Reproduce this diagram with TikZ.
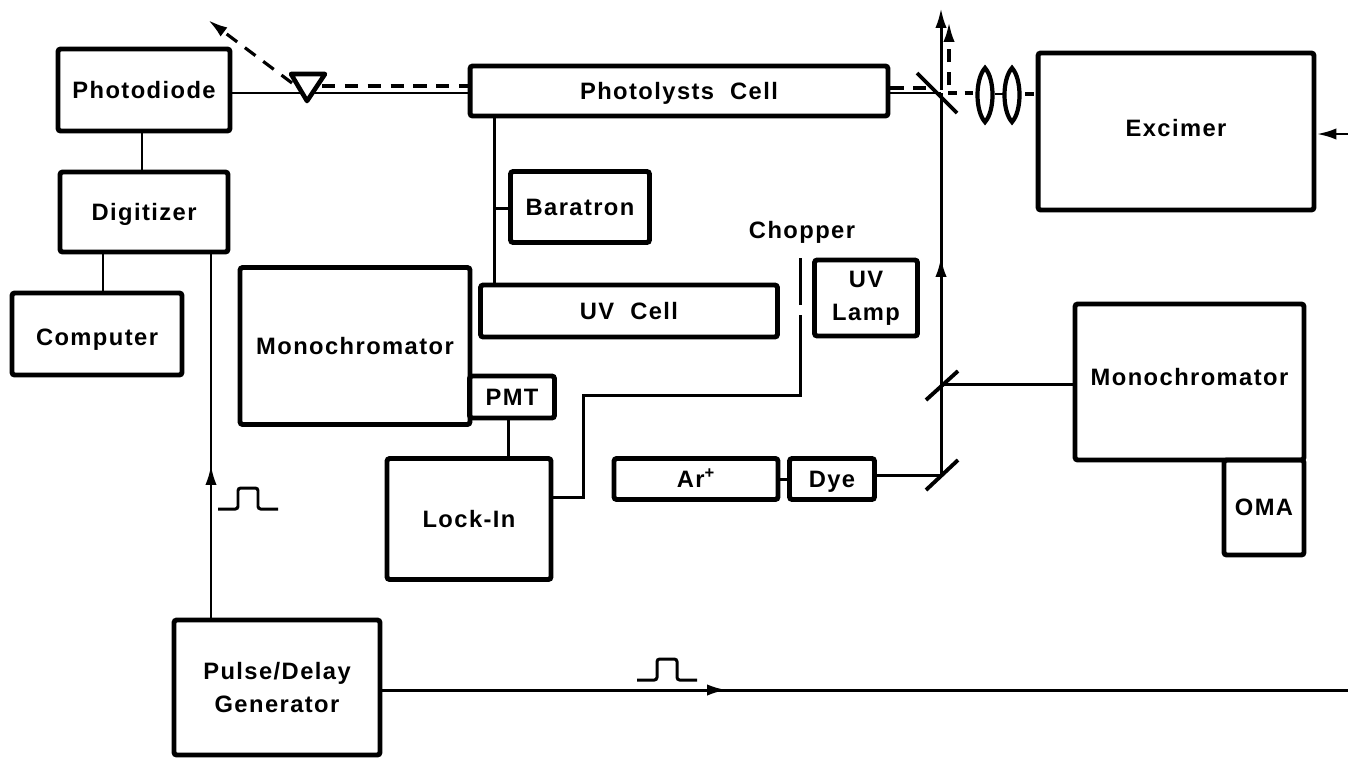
\documentclass[tikz,border=0pt]{standalone}
\usepackage{fontspec}
\setmainfont{Liberation Sans}[LetterSpace=6]
\usetikzlibrary{arrows.meta}

\tikzset{
  unit/.style={draw=black, line width=2.8pt, rounded corners=1.5pt, align=center, inner sep=0pt, text height=12pt, text depth=2.4pt, font=\fontsize{13.5}{18.7}\selectfont\bfseries},
  stacked/.style={text height=, text depth=},
  wire/.style={black, line width=1.7pt},
  beam/.style={black, line width=1.8pt, dash pattern=on 7.5pt off 5.5pt},
  shortbeam/.style={black, line width=1.8pt, dash pattern=on 5pt off 4.5pt},
  mirror/.style={black, line width=2.2pt},
  tip/.style={-{Latex[length=11.3pt,width=6.4pt]}},
  lens/.pic={\draw [black, line width=2.4pt] (0,-27) .. controls (-10,-16) and (-10,16) .. (0,27) .. controls (10,16) and (10,-16) .. (0,-27) -- cycle;},
  flash/.pic={\draw [wire, rounded corners=1.5pt] (0,0) -- (20,0) -- (20,-21) -- (40,-21) -- (40,0) -- (60,0);}
}

\begin{document}
\begin{tikzpicture}[x=0.02cm, y=-0.02cm]
\useasboundingbox (0,0) rectangle (1348,758);
\node [unit, minimum width=3.44cm, minimum height=1.64cm] (photodiode) at (144,90) {Photodiode};
\node [unit, minimum width=3.36cm, minimum height=1.6cm] (digitizer) at (144,212) {Digitizer};
\node [unit, minimum width=3.4cm, minimum height=1.64cm] (computer) at (97,334) {\raisebox{-1.7pt}{Computer}};
\node [unit, minimum width=4.6cm, minimum height=3.14cm] (monoleft) at (355,346) {Monochromator};
\node [unit, minimum width=1.7cm, minimum height=0.84cm] (pmt) at (512,397) {PMT};
\node [unit, minimum width=3.28cm, minimum height=2.42cm] (lockin) at (469,519) {Lock-In};
\node [unit, minimum width=5.94cm, minimum height=1.04cm] (uvcell) at (629,311) {UV~~Cell};
\node [unit, minimum width=2.78cm, minimum height=1.42cm] (baratron) at (580,207) {Baratron};
\node [unit, minimum width=8.36cm, minimum height=1cm] (photolysis) at (679,91) {Photolysts~~Cell};
\node [unit, minimum width=5.52cm, minimum height=3.14cm] (excimer) at (1176,131.5) {\raisebox{1.7pt}{Excimer}};
\node [unit, stacked, minimum width=2.06cm, minimum height=1.52cm] (uvlamp) at (866,298) {UV\\Lamp};
\node [unit, minimum width=3.28cm, minimum height=0.82cm] (argon) at (696,479) {Ar\textsuperscript{+}};
\node [unit, minimum width=1.7cm, minimum height=0.82cm] (dye) at (832,479) {Dye};
\node [unit, minimum width=4.58cm, minimum height=3.12cm] (monoright) at (1189.5,382) {\raisebox{2.8pt}{Monochromator}};
\node [unit, minimum width=1.6cm, minimum height=1.9cm] (oma) at (1264,507.5) {OMA};
\node [unit, stacked, minimum width=4.12cm, minimum height=2.7cm] (pulsegen) at (277,687.5) {Pulse/Delay\\Generator};
\node [inner sep=0pt, font=\fontsize{13.5}{15}\selectfont\bfseries] (chopper) at (802,232) {Chopper};
\coordinate (prism) at (307,87);
\coordinate (split) at (941,93);
\coordinate (exitup) at (941,8);
\coordinate (exitdash) at (949,22);
\coordinate (foldlow) at (941,475);
\coordinate (foldup) at (941,384);
\coordinate (chopbot) at (800,395);
\coordinate (choptop) at (800,258);
\coordinate (gapa) at (800,305);
\coordinate (gapb) at (800,315);
\coordinate (rightend) at (1348,690);
\coordinate (trigend) at (1348,134);
\coordinate (lensa) at (985,95);
\coordinate (lensb) at (1012,95);
\draw [wire] (photodiode.east |- split) -- (photolysis.west |- split);
\draw [beam] (322,86) -- (photolysis.west |- 0,86);
\draw [beam, tip] (292,83) -- (208,20);
\draw [black, line width=2.6pt, fill=white, line join=round] (291,74) -- (325,74) -- (307,101) -- cycle;
\draw [wire] (photodiode.south -| 142,0) -- (digitizer.north -| 142,0);
\draw [wire] (computer.north -| 103,0) -- (digitizer.south -| 103,0);
\draw [wire] (pulsegen.north -| 211,0) -- (digitizer.south -| 211,0);
\draw [wire, tip] (pulsegen.north -| 211,0) -- (211,465);
\draw [wire] (pulsegen.east |- rightend) -- (rightend);
\draw [wire, tip] (pulsegen.east |- rightend) -- (727,690);
\pic at (218,509) {flash};
\pic at (637,680) {flash};
\draw [wire] (photolysis.south -| 494,0) -- (uvcell.north -| 494,0);
\draw [wire] (494,208) -- (baratron.west |- 0,208);
\draw [wire] (pmt.south -| 508,0) -- (lockin.north -| 508,0);
\draw [wire] (lockin.east |- 0,497) -- (583,497) -- (583,395) -- (chopbot) -- (gapb);
\draw [wire] (gapa) -- (choptop);
\draw [wire] (argon) -- (dye);
\draw [wire] (dye.east |- foldlow) -- (foldlow);
\draw [wire] (foldlow) -- (split);
\draw [wire, tip] (foldlow) -- (941,257);
\draw [wire, tip] (941,90) -- (exitup);
\draw [wire] (foldup) -- (monoright.west |- foldup);
\draw [mirror] (926,490) -- (958,460);
\draw [mirror] (926,400) -- (958,371);
\draw [mirror] (917,73) -- (957,113);
\draw [wire] (photolysis.east |- split) -- (split);
\draw [beam] (photolysis.east |- 0,88) -- (932,88);
\draw [beam, tip] (949,85) -- (exitdash);
\draw [shortbeam] (948,93) -- (973,93);
\draw [shortbeam] (1025,94) -- (excimer.west |- 0,94);
\draw [wire] (995,94) -- (1003,94);
\draw [wire, tip] (trigend) -- (excimer.east |- trigend);
\pic at (lensa) {lens};
\pic at (lensb) {lens};
\end{tikzpicture}
\end{document}
